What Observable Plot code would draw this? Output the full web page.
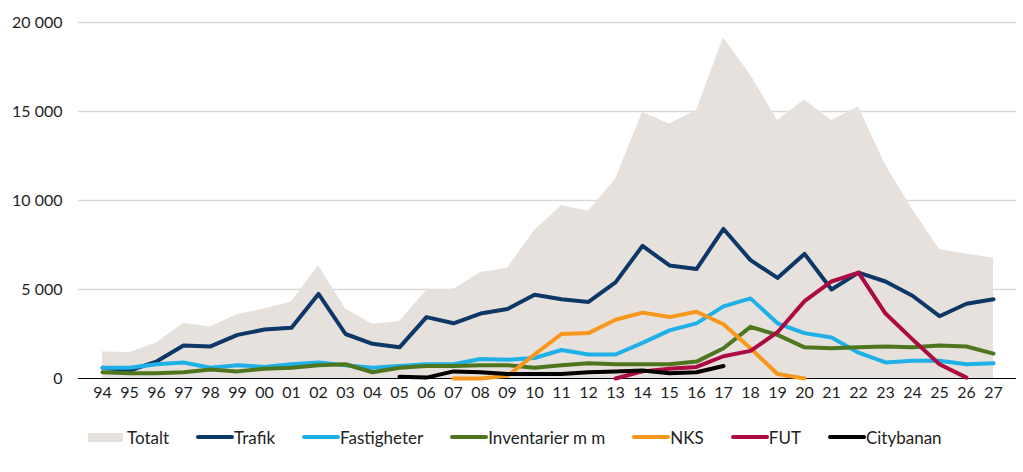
<!DOCTYPE html>
<html><head><meta charset="utf-8">
<script src="https://cdn.jsdelivr.net/npm/d3@7"></script>
<script src="https://cdn.jsdelivr.net/npm/@observablehq/plot@0.6"></script>
<style>
body{margin:0;background:#fff;font-family:Lato,sans-serif;}
#legend{display:flex;align-items:center;padding-left:88px;margin-top:17px;height:20px;font-size:17px;color:#222;}
.item{display:flex;align-items:center;margin-right:27px;}
.sw-line{width:38px;height:4px;border-radius:2px;}
.sw-area{width:35px;height:9px;margin-right:4px;}
</style></head><body><div id="chart"></div><div id="legend"></div>
<script>
const years = ["94","95","96","97","98","99","00","01","02","03","04","05","06","07","08","09","10","11","12","13","14","15","16","17","18","19","20","21","22","23","24","25","26","27"];
const totalt = [1500,1450,2000,3100,2900,3600,3900,4300,6350,3900,3050,3200,4950,5000,5950,6200,8300,9700,9400,11200,14950,14300,15050,19150,17050,14500,15650,14500,15250,12000,9500,7250,7000,6750];
const trafik = [600,450,950,1850,1800,2450,2750,2850,4750,2500,1950,1750,3450,3100,3650,3900,4700,4450,4300,5400,7450,6350,6150,8400,6650,5650,7000,5000,5950,5450,4650,3500,4200,4450];
const fastigheter = [600,600,800,900,600,750,650,800,900,750,600,700,800,800,1100,1050,1150,1600,1350,1350,2000,2700,3100,4050,4500,3100,2550,2300,1450,900,1000,1000,800,850];
const inventarier = [350,300,300,350,500,400,550,600,750,800,350,600,700,700,750,750,600,750,850,800,800,800,950,1700,2900,2450,1750,1700,1750,1800,1750,1850,1800,1400];
const nks = [null,null,null,null,null,null,null,null,null,null,null,null,null,0,0,150,1350,2500,2550,3300,3700,3450,3750,3050,1700,250,0,null,null,null,null,null,null,null];
const fut = [null,null,null,null,null,null,null,null,null,null,null,null,null,null,null,null,null,null,null,0,400,550,650,1250,1550,2600,4350,5450,5950,3650,2200,800,50,null];
const citybanan = [null,null,null,null,null,null,null,null,null,null,null,100,50,400,350,250,250,250,350,400,450,300,350,700,null,null,null,null,null,null,null,null,null,null];
const yTicks = [0,5000,10000,15000,20000];

const seriesNames = ["Trafik","Fastigheter","Inventarier m m","NKS","FUT","Citybanan"];
const seriesValues = [trafik,fastigheter,inventarier,nks,fut,citybanan];
const seriesColors = ["#0d3766","#1fb0e8","#4e761f","#f7981d","#ab0b43","#000000"];
const areaColor = "#e6e1dc";

const areaData = years.map((y,i)=>({year:y,value:totalt[i]}));
const lineData = [];
seriesNames.forEach((name,s)=>{
  seriesValues[s].forEach((v,i)=>{ if (v!=null) lineData.push({series:name,year:years[i],value:v}); });
});

const fmt = d => d3.format(",")(d).replace(/,/g," ");

const chart = Plot.plot({
  width:1023, height:410,
  marginLeft:78, marginRight:7, marginTop:22, marginBottom:32,
  style:{fontFamily:"Lato, sans-serif", fontSize:"16px", color:"#1f1f1f", background:"#fff"},
  x:{type:"point", domain:years, padding:0.5, tickSize:0, tickPadding:8, label:null},
  y:{domain:[0,20000], ticks:yTicks, tickFormat:fmt, tickSize:0, tickPadding:16, label:null},
  color:{domain:seriesNames, range:seriesColors},
  marks:[
    Plot.gridY(yTicks.filter(d=>d>0), {stroke:"#d9d9d9", strokeOpacity:1, strokeWidth:1.5}),
    Plot.areaY(areaData, {x:"year", y:"value", fill:areaColor}),
    Plot.ruleY([0], {stroke:"#000", strokeWidth:1}),
    Plot.lineY(lineData, {x:"year", y:"value", z:"series", stroke:"series", strokeWidth:4, strokeLinejoin:"round", curve:"linear"})
  ]
});
document.getElementById("chart").appendChild(chart);

const legend = d3.select("#legend");
const t = legend.append("div").attr("class","item");
t.append("div").attr("class","sw-area").style("background",areaColor);
t.append("span").text("Totalt");
seriesNames.forEach((n,i)=>{
  const it = legend.append("div").attr("class","item");
  it.append("div").attr("class","sw-line").style("background",seriesColors[i]);
  it.append("span").text(n);
});
</script>
</body></html>
